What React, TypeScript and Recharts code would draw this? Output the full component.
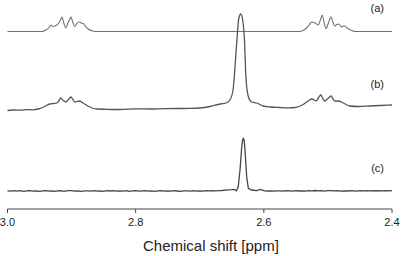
import { LineChart, Line, XAxis, YAxis } from "recharts";

// chemical shift ticks (ppm)
const TICKS = [3.0, 2.8, 2.6, 2.4];

// [ppm, intensity above the trace's own baseline]
const SPEC_A: [number, number][] = [
  [3.0, 0], [2.946, 0], [2.94, 1.5], [2.935, 4], [2.932, 6.5], [2.929, 5], [2.924, 6],
  [2.92, 8.5], [2.917, 12], [2.915, 14.5], [2.912, 8], [2.909, 3.5], [2.906, 8], [2.903, 12],
  [2.901, 14.5], [2.898, 9], [2.895, 5], [2.892, 8], [2.888, 9.5], [2.885, 8.5], [2.882, 8],
  [2.878, 5], [2.874, 2.5], [2.868, 0.7], [2.863, 0], [2.7, 0], [2.6, 0], [2.544, 0],
  [2.539, 1], [2.534, 3], [2.53, 6], [2.525, 9.5], [2.52, 8.5], [2.515, 6.5], [2.512, 11],
  [2.509, 16.5], [2.506, 9], [2.503, 3], [2.499, 9], [2.495, 14.5], [2.492, 9], [2.489, 5.5],
  [2.486, 7], [2.483, 7.5], [2.479, 4.5], [2.476, 5.5], [2.474, 5.5], [2.47, 3.5], [2.466, 2],
  [2.461, 0.5], [2.456, 0], [2.4, 0],
];

const SPEC_B: [number, number][] = [
  [3.0, -1.5], [2.99, -1], [2.98, -1.2], [2.97, -0.6], [2.96, -0.8], [2.952, 0], [2.945, 1.5],
  [2.938, 4], [2.934, 5], [2.927, 5.5], [2.923, 6], [2.92, 8], [2.917, 11], [2.913, 8.5],
  [2.909, 7], [2.905, 9.5], [2.901, 12], [2.898, 9.5], [2.895, 7], [2.888, 8], [2.882, 6],
  [2.876, 3.5], [2.868, 1], [2.86, 0], [2.845, -0.3], [2.824, -0.5], [2.8, 0.2], [2.778, 0],
  [2.755, 0.4], [2.731, 0.5], [2.715, 0.6], [2.7, 1], [2.684, 2.5], [2.668, 5], [2.659, 6],
  [2.653, 9], [2.648, 19], [2.645, 42], [2.642, 69], [2.639, 91], [2.636, 95], [2.633, 89],
  [2.63, 66], [2.628, 32], [2.624, 12], [2.619, 7], [2.611, 6], [2.601, 3], [2.59, 2],
  [2.575, 1.5], [2.562, 1.2], [2.551, 1.5], [2.54, 4], [2.531, 8], [2.525, 10], [2.518, 8],
  [2.515, 11], [2.511, 14], [2.508, 10.5], [2.505, 8], [2.5, 10.5], [2.495, 13], [2.492, 10],
  [2.489, 8], [2.484, 8], [2.476, 6], [2.466, 3], [2.453, 2.5], [2.434, 3], [2.419, 3.5],
  [2.4, 4],
];

const SPEC_C: [number, number][] = [
  [3.0, 0.1], [2.995, -0.2], [2.99, 0.3], [2.985, -0.1], [2.98, 0.3], [2.975, -0.3], [2.97, 0.1],
  [2.965, 0.4], [2.96, -0.2], [2.955, 0.2], [2.95, -0.3], [2.945, 0.2], [2.94, 0.4], [2.935, -0.1],
  [2.93, 0.1], [2.925, -0.3], [2.92, 0.3], [2.915, 0], [2.91, -0.2], [2.905, 0.3], [2.9, 0.4],
  [2.895, -0.1], [2.89, 0.2], [2.885, -0.3], [2.88, 0.2], [2.875, 0.1], [2.87, -0.2], [2.865, 0.4],
  [2.86, -0.1], [2.855, 0.1], [2.85, -0.3], [2.845, 0.3], [2.84, 0], [2.835, 0.3], [2.83, -0.2],
  [2.825, 0.2], [2.82, -0.1], [2.815, 0.3], [2.81, -0.3], [2.805, 0.1], [2.8, 0.3], [2.795, -0.2],
  [2.79, 0.1], [2.785, 0.4], [2.78, -0.1], [2.775, 0.2], [2.77, -0.3], [2.765, 0.1], [2.76, 0.4],
  [2.755, -0.1], [2.75, 0.2], [2.745, -0.2], [2.74, 0.3], [2.735, 0], [2.73, -0.3], [2.725, 0.2],
  [2.72, 0.1], [2.715, -0.2], [2.71, 0.3], [2.705, -0.1], [2.7, 0.2], [2.695, -0.2], [2.69, 0.3],
  [2.685, 0.1], [2.68, 0.4], [2.675, 0.1], [2.67, 0.3], [2.665, 0.5], [2.66, 0.9], [2.655, 1.1],
  [2.65, 1.3], [2.646, 1.6], [2.643, 0.3], [2.64, 4], [2.6372, 21], [2.6345, 44], [2.6332, 51],
  [2.632, 52.5], [2.6307, 50.5], [2.6294, 41], [2.6267, 14], [2.6242, 2.7], [2.619, 1],
  [2.611, 0.3], [2.606, 1.5], [2.6, 0.4], [2.5955, -0.2], [2.59, 0.1], [2.585, -0.2], [2.58, 0.2],
  [2.575, 0.1], [2.57, -0.2], [2.565, 0.3], [2.56, 0.1], [2.555, -0.1], [2.55, 0.3], [2.545, 0],
  [2.54, 0.2], [2.535, -0.2], [2.53, 0.4], [2.525, 0.1], [2.52, 0.5], [2.515, 0.2], [2.51, 0.3],
  [2.505, -0.1], [2.5, 0.3], [2.495, 0.4], [2.49, 0.1], [2.485, 0.3], [2.48, -0.1], [2.475, 0.2],
  [2.47, 0], [2.465, 0.3], [2.46, 0.1], [2.455, -0.2], [2.45, 0.3], [2.445, 0.2], [2.44, 0.4],
  [2.435, 0.1], [2.43, 0.3], [2.425, 0], [2.42, 0.3], [2.415, 0.1], [2.41, 0.4], [2.405, 0.2],
  [2.4, 0.3],
];

// vertical stacking of the three spectra (baseline height in y units)
const OFFSETS = { a: 177.5, b: 100, c: 18 };

const toRows = (spec: [number, number][], offset: number) =>
  spec.map(([ppm, v]) => ({ ppm, y: v + offset }));

const labelStyle: React.CSSProperties = {
  position: "absolute",
  right: 18,
  fontSize: 11,
  lineHeight: "11px",
  color: "#222",
};

export default function App() {
  return (
    <div
      style={{
        position: "absolute",
        left: 0,
        top: 0,
        width: 402,
        height: 256,
        background: "#fff",
        fontFamily: "'Liberation Sans', Arial, sans-serif",
      }}
    >
      <LineChart width={402} height={256} margin={{ top: 0, right: 10, bottom: 0, left: 7.5 }}>
        <XAxis
          type="number"
          dataKey="ppm"
          domain={[2.4, 3.0]}
          reversed
          ticks={TICKS}
          interval={0}
          tickFormatter={(v: number) => v.toFixed(1)}
          tickSize={4}
          tickMargin={5}
          height={47}
          axisLine={{ stroke: "#444" }}
          tickLine={{ stroke: "#444" }}
          tick={{ fill: "#222", fontSize: 11 }}
        />
        <YAxis hide domain={[0, 209]} allowDataOverflow />
        <Line
          data={toRows(SPEC_A, OFFSETS.a)}
          dataKey="y"
          type="monotone"
          stroke="#707070"
          strokeWidth={1.1}
          dot={false}
          isAnimationActive={false}
        />
        <Line
          data={toRows(SPEC_B, OFFSETS.b)}
          dataKey="y"
          type="monotone"
          stroke="#555"
          strokeWidth={1.3}
          dot={false}
          isAnimationActive={false}
        />
        <Line
          data={toRows(SPEC_C, OFFSETS.c)}
          dataKey="y"
          type="linear"
          stroke="#444"
          strokeWidth={1.3}
          dot={false}
          isAnimationActive={false}
        />
      </LineChart>
      <div style={{ ...labelStyle, top: 3 }}>(a)</div>
      <div style={{ ...labelStyle, top: 79 }}>(b)</div>
      <div style={{ ...labelStyle, top: 163 }}>(c)</div>
      <div
        style={{
          position: "absolute",
          left: 143,
          top: 238,
          fontSize: 15,
          lineHeight: "15px",
          color: "#222",
          whiteSpace: "nowrap",
        }}
      >
        Chemical shift [ppm]
      </div>
    </div>
  );
}
